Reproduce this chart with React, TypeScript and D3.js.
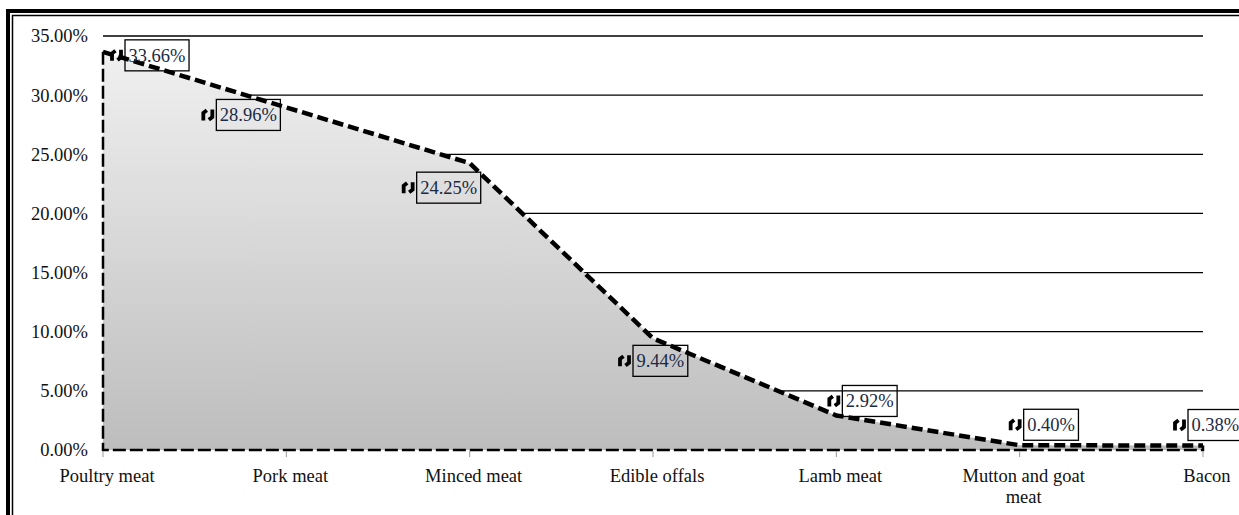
import React, { useMemo } from "react";
import * as d3 from "d3";

// Share of purchases by meat type (%)
const categories = [
  "Poultry meat",
  "Pork meat",
  "Minced meat",
  "Edible offals",
  "Lamb meat",
  "Mutton and goat meat",
  "Bacon",
];
const shares = [33.66, 28.96, 24.25, 9.44, 2.92, 0.4, 0.38];
const yTicks = [0, 5, 10, 15, 20, 25, 30, 35];

// Where each value label sits relative to its point: [dx of box left, dy of box top]
const labelOffsets: [number, number][] = [
  [22, -12],
  [-70, -8],
  [-53, 9],
  [-20, 7],
  [6, -30],
  [4, -36],
  [-15, -36],
];

const W = 1239;
const H = 515;
const FONT = "Liberation Serif, 'Times New Roman', serif";
const FS = 18.5;

function measure(text: string): number {
  const c = document.createElement("canvas").getContext("2d");
  if (!c) return text.length * FS * 0.5;
  c.font = `${FS}px ${FONT}`;
  return c.measureText(text).width;
}

function wrap(text: string, maxW: number): string[] {
  const words = text.split(" ");
  const lines: string[] = [];
  let cur = "";
  for (const w of words) {
    const t = cur ? cur + " " + w : w;
    if (cur && measure(t) > maxW) {
      lines.push(cur);
      cur = w;
    } else cur = t;
  }
  if (cur) lines.push(cur);
  return lines;
}

export default function App() {
  const x = d3.scalePoint<string>().domain(categories).range([103, 1203]).padding(0);
  const y = d3.scaleLinear().domain([0, 35]).range([450, 36]);
  const fmtTick = (v: number) => d3.format(".2f")(v) + "%";
  const fmtVal = (v: number) => d3.format(".2f")(v) + "%";

  const pts = categories.map((c, i) => ({ c, v: shares[i] }));
  const areaGen = d3
    .area<{ c: string; v: number }>()
    .x((d) => x(d.c)!)
    .y0(y(0))
    .y1((d) => y(d.v));
  const lineGen = d3
    .line<{ c: string; v: number }>()
    .x((d) => x(d.c)!)
    .y((d) => y(d.v));

  const x0 = x(categories[0])!;
  const xN = x(categories[categories.length - 1])!;
  const outline = `M${x0},${y(shares[0])}L${x0},${y(0)}L${xN},${y(0)}L${xN},${y(shares[shares.length - 1])}`;

  const labels = useMemo(() => categories.map((c) => wrap(c, 130)), []);
  const valueWidths = useMemo(() => shares.map((v) => measure(fmtVal(v))), []);

  // small leader glyph drawn beside each value label
  const flag = "M2,12 L2,4.5 L5.5,1.8 M11,1 L11,8.5 L7.5,11.2";

  return (
    <svg
      width={W}
      height={H}
      style={{ position: "absolute", left: 0, top: 0, background: "#fff" }}
      fontFamily={FONT}
    >
      <defs>
        <linearGradient id="fillGrad" gradientUnits="userSpaceOnUse" x1="0" y1={y(35)} x2="0" y2={y(0)}>
          <stop offset="0" stopColor="#f2f2f2" />
          <stop offset="1" stopColor="#bdbdbd" />
        </linearGradient>
      </defs>

      {/* double frame */}
      <rect x={8} y={11} width={W + 40} height={H + 40} fill="none" stroke="#000" strokeWidth={4} />
      <rect x={12.5} y={15.5} width={W + 40} height={H + 40} fill="none" stroke="#000" strokeWidth={1.5} />

      {/* gridlines */}
      {yTicks.slice(1).map((t) => (
        <line key={t} x1={x0} x2={xN} y1={y(t)} y2={y(t)} stroke="#000" strokeWidth={1.3} />
      ))}

      {/* area */}
      <path d={areaGen(pts) || ""} fill="url(#fillGrad)" />
      <path d={outline} fill="none" stroke="#000" strokeWidth={2.5} strokeDasharray="13 4" />
      <path d={lineGen(pts) || ""} fill="none" stroke="#000" strokeWidth={4.5} strokeDasharray="11 5" />

      {/* y axis labels */}
      {yTicks.map((t) => (
        <text key={t} x={88} y={y(t)} dy="0.35em" textAnchor="end" fontSize={FS} fill="#111">
          {fmtTick(t)}
        </text>
      ))}

      {/* category ticks and labels */}
      {categories.map((c, i) => (
        <g key={c}>
          <line x1={x(c)!} x2={x(c)!} y1={451} y2={457} stroke="#999" strokeWidth={1} />
          <text x={x(c)! + 4} y={482} textAnchor="middle" fontSize={FS} fill="#111">
            {labels[i].map((l, j) => (
              <tspan key={j} x={x(c)! + 4} dy={j === 0 ? 0 : 21}>
                {l}
              </tspan>
            ))}
          </text>
        </g>
      ))}

      {/* value labels */}
      {categories.map((c, i) => {
        const px = x(c)!;
        const py = y(shares[i]);
        const bw = valueWidths[i] + 7;
        const bh = 31;
        const bx = px + labelOffsets[i][0];
        const by = py + labelOffsets[i][1];
        return (
          <g key={c}>
            <rect x={bx} y={by} width={bw} height={bh} fill="none" stroke="#000" strokeWidth={1.3} />
            <text x={bx + bw / 2} y={by + bh / 2} dy="0.35em" textAnchor="middle" fontSize={FS} fill="#1b2a44">
              {fmtVal(shares[i])}
            </text>
            <path
              d={flag}
              transform={`translate(${bx - 15},${by + bh / 2 - 6.5})`}
              fill="none"
              stroke="#000"
              strokeWidth={3.8}
            />
          </g>
        );
      })}
    </svg>
  );
}
